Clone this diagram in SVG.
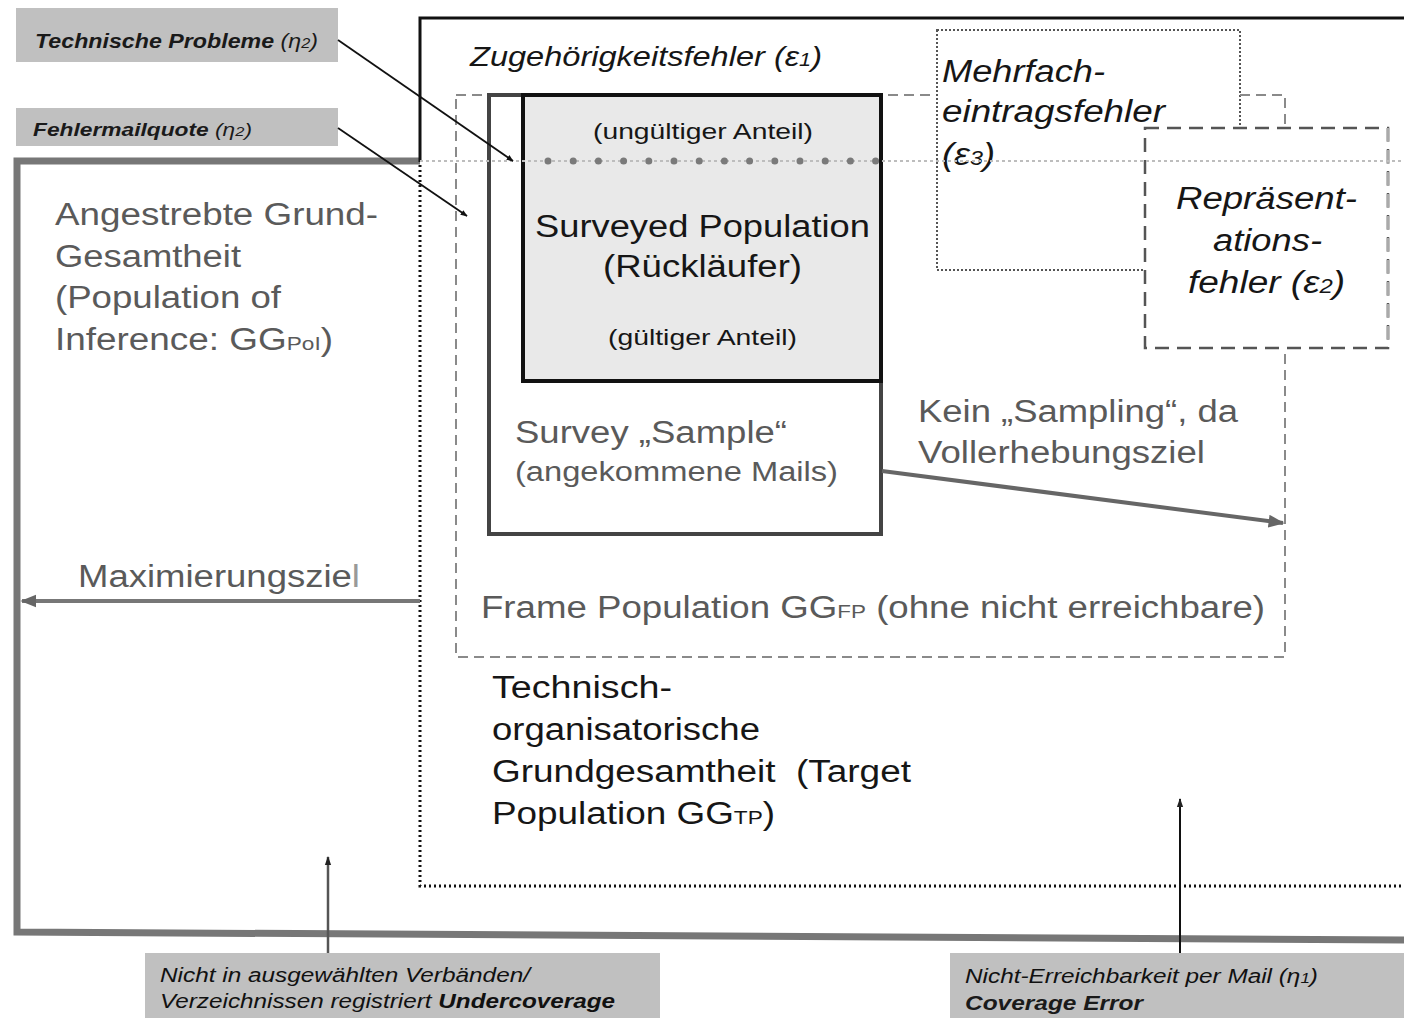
<svg xmlns="http://www.w3.org/2000/svg" width="1404" height="1018" viewBox="0 0 1404 1018">
<defs>
<style>
text{font-family:"Liberation Sans",Arial,sans-serif}
.g{fill:#5a5a5a;font-size:31px}
.k{fill:#161616;font-size:31px}
.it{font-style:italic}
.lab{font-style:italic;font-weight:bold;fill:#1a1a1a;font-size:20px}
.labn{font-style:italic;font-weight:normal;fill:#111;font-size:20px}
.labbox{fill:#c0c0c0}
.sub{font-size:19px}
.sm{font-size:22px;fill:#161616}
</style>
<marker id="ah" viewBox="0 0 10 10" refX="9" refY="5" markerWidth="7" markerHeight="7" orient="auto" markerUnits="userSpaceOnUse">
<path d="M0,1 L10,5 L0,9 Z" fill="#111"/>
</marker>
<marker id="ahg" viewBox="0 0 10 10" refX="9" refY="5" markerWidth="4" markerHeight="4" orient="auto">
<path d="M0,1 L10,5 L0,9 Z" fill="#666"/>
</marker>
<marker id="ahs" viewBox="0 0 10 10" refX="9" refY="5" markerWidth="9" markerHeight="9" orient="auto" markerUnits="userSpaceOnUse">
<path d="M0,1.5 L10,5 L0,8.5 Z" fill="#222"/>
</marker>
</defs>
<rect width="1404" height="1018" fill="#fff"/>

<g id="gg-pol">
<path d="M420,161 L17,161 L17,932 L1404,940" fill="none" stroke="#777" stroke-width="7"/>
<text class="g" x="55" y="225" textLength="323" lengthAdjust="spacingAndGlyphs">Angestrebte Grund-</text>
<text class="g" x="55" y="267" textLength="186" lengthAdjust="spacingAndGlyphs">Gesamtheit</text>
<text class="g" x="55" y="308" textLength="226" lengthAdjust="spacingAndGlyphs">(Population of</text>
<text class="g" x="55" y="350" textLength="278" lengthAdjust="spacingAndGlyphs">Inference: GG<tspan class="sub">PoI</tspan>)</text>
</g>

<g id="gg-tp">
<path d="M420,160 L420,18 L1404,18" fill="none" stroke="#111" stroke-width="3"/>
<path d="M420,160 L420,886 L1404,886" fill="none" stroke="#111" stroke-width="3" stroke-dasharray="2 3"/>
<text class="k" x="492" y="698" textLength="180" lengthAdjust="spacingAndGlyphs">Technisch-</text>
<text class="k" x="492" y="740" textLength="268" lengthAdjust="spacingAndGlyphs">organisatorische</text>
<text class="k" x="492" y="782" textLength="419" lengthAdjust="spacingAndGlyphs" xml:space="preserve">Grundgesamtheit  (Target</text>
<text class="k" x="492" y="824" textLength="283" lengthAdjust="spacingAndGlyphs">Population GG<tspan class="sub">TP</tspan>)</text>
</g>

<g id="zugehoerigkeit">
<text class="k it" x="470" y="66" style="font-size:27px" textLength="352" lengthAdjust="spacingAndGlyphs">Zugehörigkeitsfehler (ε<tspan style="font-size:18px">1</tspan>)</text>
</g>

<g id="gg-fp">
<rect x="456" y="95" width="829" height="562" fill="none" stroke="#8a8a8a" stroke-width="2" stroke-dasharray="10 6"/>
<text class="g" x="481" y="618" textLength="784" lengthAdjust="spacingAndGlyphs">Frame Population GG<tspan class="sub">FP</tspan> (ohne nicht erreichbare)</text>
</g>

<g id="survey-sample">
<rect x="489" y="95" width="392" height="439" fill="#fff" stroke="#444" stroke-width="4"/>
<text class="g" x="515" y="443" textLength="272" lengthAdjust="spacingAndGlyphs">Survey „Sample“</text>
<text class="g" x="515" y="481" style="font-size:27px" textLength="323" lengthAdjust="spacingAndGlyphs">(angekommene Mails)</text>
</g>

<g id="surveyed-population">
<rect x="523" y="95" width="358" height="286" fill="#e9e9e9" stroke="#111" stroke-width="4"/>
<text class="sm" x="593" y="139" textLength="220" lengthAdjust="spacingAndGlyphs">(ungültiger Anteil)</text>
<text class="k" x="535" y="237" textLength="335" lengthAdjust="spacingAndGlyphs">Surveyed Population</text>
<text class="k" x="603" y="277" textLength="199" lengthAdjust="spacingAndGlyphs">(Rückläufer)</text>
<text class="sm" x="608" y="345" textLength="189" lengthAdjust="spacingAndGlyphs">(gültiger Anteil)</text>
</g>

<g id="mehrfach">
<rect x="937" y="30" width="303" height="240" fill="#fff" stroke="#555" stroke-width="2" stroke-dasharray="2 2"/>
<text class="k it" x="942" y="82" textLength="163" lengthAdjust="spacingAndGlyphs">Mehrfach-</text>
<text class="k it" x="942" y="122" textLength="223" lengthAdjust="spacingAndGlyphs">eintragsfehler</text>
<text class="k it" x="942" y="165" textLength="53" lengthAdjust="spacingAndGlyphs">(ε<tspan style="font-size:20px">3</tspan>)</text>
</g>

<g id="repraesentation">
<path d="M1240,95 L1285,95 L1285,128" fill="none" stroke="#8a8a8a" stroke-width="2" stroke-dasharray="10 6"/>
<rect x="1145" y="128" width="243" height="220" fill="#fff" stroke="#555" stroke-width="2.5" stroke-dasharray="14 8"/>
<line x1="1388" y1="128" x2="1388" y2="348" stroke="#aaa" stroke-width="3" stroke-dasharray="14 8"/>
<text class="k it" x="1176" y="209" textLength="181" lengthAdjust="spacingAndGlyphs">Repräsent-</text>
<text class="k it" x="1213" y="251" textLength="109" lengthAdjust="spacingAndGlyphs">ations-</text>
<text class="k it" x="1188" y="293" textLength="157" lengthAdjust="spacingAndGlyphs">fehler (ε<tspan style="font-size:20px">2</tspan>)</text>
</g>

<g id="label-technische">
<rect class="labbox" x="16" y="8" width="322" height="54"/>
<text class="lab" x="35" y="48" textLength="283" lengthAdjust="spacingAndGlyphs">Technische Probleme <tspan style="font-weight:normal">(η<tspan style="font-size:14px">2</tspan>)</tspan></text>
</g>

<g id="label-fehlermail">
<rect class="labbox" x="16" y="108" width="322" height="38"/>
<text class="lab" x="33" y="136" style="font-size:18px" textLength="219" lengthAdjust="spacingAndGlyphs">Fehlermailquote <tspan style="font-weight:normal">(η<tspan style="font-size:13px">2</tspan>)</tspan></text>
</g>

<g id="label-undercoverage">
<rect class="labbox" x="145" y="953" width="515" height="65"/>
<text class="labn" x="160" y="982" textLength="370" lengthAdjust="spacingAndGlyphs">Nicht in ausgewählten Verbänden/</text>
<text class="labn" x="160" y="1008" textLength="455" lengthAdjust="spacingAndGlyphs">Verzeichnissen registriert <tspan style="font-weight:bold">Undercoverage</tspan></text>
</g>

<g id="label-coverage">
<rect class="labbox" x="950" y="953" width="454" height="65"/>
<text class="labn" x="965" y="983" textLength="353" lengthAdjust="spacingAndGlyphs">Nicht-Erreichbarkeit per Mail (η<tspan style="font-size:14px">1</tspan>)</text>
<text class="lab" x="965" y="1010" textLength="178" lengthAdjust="spacingAndGlyphs">Coverage Error</text>
</g>

<g id="connectors">
<line x1="420" y1="161" x2="1404" y2="161" stroke="#bdbdbd" stroke-width="2" stroke-dasharray="3 3"/>
<line x1="548" y1="161" x2="876" y2="161" stroke="#7a7a7a" stroke-width="7" stroke-linecap="round" stroke-dasharray="0 25.2"/>
<line x1="338" y1="40" x2="513" y2="161" stroke="#111" stroke-width="1.8" marker-end="url(#ah)"/>
<line x1="338" y1="128" x2="467" y2="216" stroke="#111" stroke-width="1.8" marker-end="url(#ah)"/>
<line x1="420" y1="601" x2="22" y2="601" stroke="#777" stroke-width="4" marker-end="url(#ahg)"/>
<text class="g" x="78" y="587" textLength="282" lengthAdjust="spacingAndGlyphs">Maximierungszie<tspan fill="#999">l</tspan></text>
<line x1="882" y1="471" x2="1283" y2="523" stroke="#666" stroke-width="4" marker-end="url(#ahg)"/>
<text class="g" x="918" y="422" textLength="320" lengthAdjust="spacingAndGlyphs">Kein „Sampling“, da</text>
<text class="g" x="918" y="463" textLength="287" lengthAdjust="spacingAndGlyphs">Vollerhebungsziel</text>
<line x1="328" y1="953" x2="328" y2="857" stroke="#555" stroke-width="2.5" marker-end="url(#ahs)"/>
<line x1="1180" y1="953" x2="1180" y2="799" stroke="#111" stroke-width="2" marker-end="url(#ahs)"/>
</g>
</svg>
